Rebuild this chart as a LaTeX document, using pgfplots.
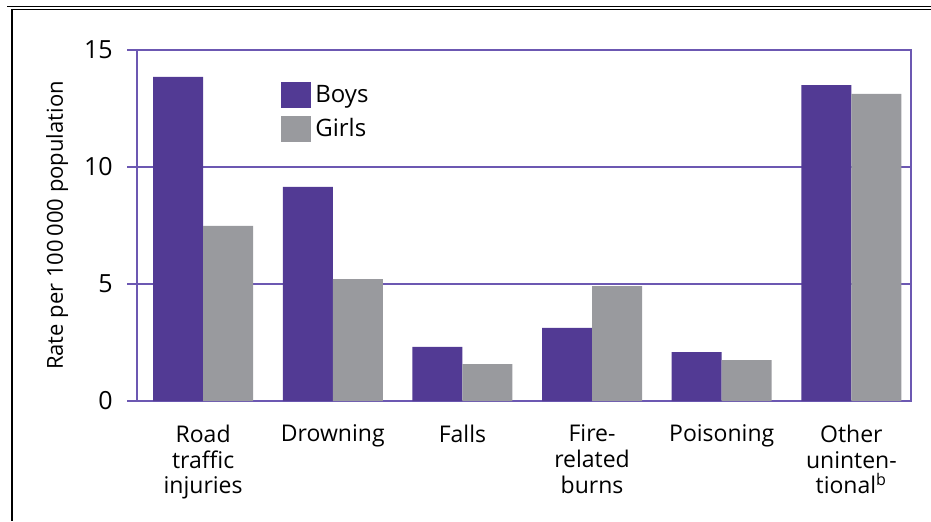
\documentclass[border=0pt]{standalone}
\usepackage{pgfplots}
\pgfplotsset{compat=1.18}
\usepackage{fontspec}
\setmainfont{Open Sans}
\definecolor{boys}{RGB}{82,58,148}
\definecolor{girls}{RGB}{153,154,158}
\definecolor{axpurple}{RGB}{108,88,178}
\begin{document}
\begin{tikzpicture}
\useasboundingbox (0,0) rectangle (465.5pt,260.5pt);
\draw[line width=0.75pt] (3.5pt,257.25pt) -- (465.5pt,257.25pt);
\draw[line width=0.75pt] (6pt,255.75pt) -- (465.5pt,255.75pt);
\draw[line width=1.2pt] (6pt,256pt) -- (6pt,0pt);
\begin{axis}[
  at={(68.5pt,60pt)}, anchor=south west, scale only axis,
  width=387pt, height=175.5pt,
  xmin=-0.51, xmax=5.46, ymin=0, ymax=15,
  ybar=0pt, bar width=25pt,
  axis line style={draw=axpurple, line width=0.6pt},
  ytick={0,5,10,15}, ymajorgrids,
  grid style={draw=axpurple, line width=0.6pt},
  xtick={0,1,2,3,4,5},
  xticklabels={{Road\\traffic\\injuries},Drowning,Falls,{Fire-\\related\\burns},Poisoning,{Other\\uninten-\\tional\textsuperscript{b}}},
  x tick style={draw=none},
  y tick style={draw=axpurple, line width=0.6pt},
  tick align=outside, major tick length=5pt,
  ytick pos=left, xtick pos=bottom,
  /pgf/number format/assume math mode=true,
  yticklabel style={font=\fontsize{12.5}{13}\selectfont, inner sep=1pt, xshift=-6pt},
  xticklabel style={font=\fontsize{11.5}{12.8}\selectfont, align=center, yshift=-3.5pt},
  ylabel={Rate per 100\,000 population},
  every axis y label/.style={at={(axis description cs:-0.103,0.5)}, rotate=90, anchor=center, font=\fontsize{11}{13}\selectfont},
  legend style={at={(0.186,0.912)}, anchor=north west, draw=none, fill=none, inner sep=0pt, row sep=2.5pt, font=\fontsize{12}{13}\selectfont, nodes={inner sep=2pt}},
  legend cell align=left,
]
\addplot[fill=boys, draw=none, legend image code/.code={\fill[boys] (0pt,-6.5pt) rectangle (15pt,6.5pt);}] coordinates {(0,13.85) (1,9.15) (2,2.31) (3,3.12) (4,2.09) (5,13.5)};
\addplot[fill=girls, draw=none, legend image code/.code={\fill[girls] (0pt,-6.5pt) rectangle (15pt,6.5pt);}] coordinates {(0,7.48) (1,5.21) (2,1.58) (3,4.91) (4,1.75) (5,13.12)};
\legend{Boys, Girls}
\end{axis}
\end{tikzpicture}
\end{document}
